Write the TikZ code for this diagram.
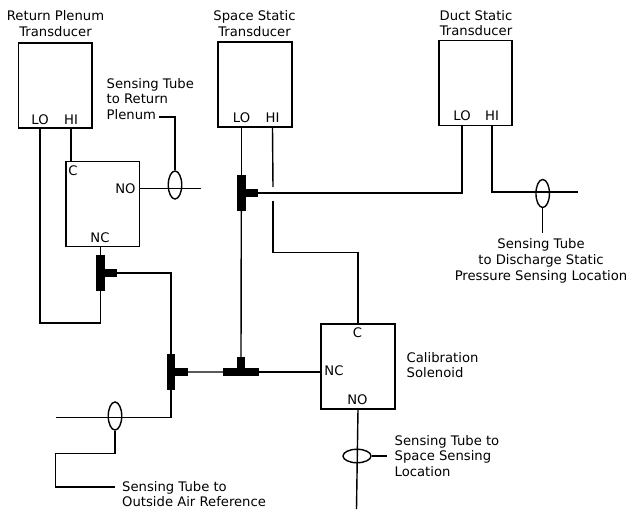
\documentclass[tikz,border=0pt]{standalone}
\usepackage{fontspec}
\setmainfont{DejaVu Sans}
\usetikzlibrary{shapes.geometric}
\begin{document}
\begin{tikzpicture}[scale=0.2,line width=0.8pt]
        \tikzstyle{every node}+=[inner sep=0pt,font=\fontsize{7.5}{9}\selectfont]
        \tikzstyle{devbox}=[draw,line width=0.9pt,minimum width=1.47cm,minimum height=1.7cm]
        \tikzstyle{vbar}=[fill=black,outer sep=0pt,minimum width=0.17cm,minimum height=0.72cm]
        \tikzstyle{hbar}=[fill=black,outer sep=0pt,minimum width=0.72cm,minimum height=0.17cm]
        \tikzstyle{rstub}=[fill=black,outer sep=0pt,minimum width=0.25cm,minimum height=0.17cm]
        \tikzstyle{ustub}=[fill=black,outer sep=0pt,minimum width=0.17cm,minimum height=0.21cm]
        \tikzstyle{vtube}=[draw,ellipse,minimum width=0.27cm,minimum height=0.56cm]
        \tikzstyle{htube}=[draw,ellipse,minimum width=0.56cm,minimum height=0.27cm]
        \tikzstyle{note}=[align=left,anchor=west]
        \useasboundingbox (0,0) rectangle (63.2,-51);
        % boxes
        \node (rp) [devbox] at (5.53,-8.55) {};
        \node (space) [devbox] at (25.5,-8.45) {};
        \node (duct) [devbox] at (47.55,-8.3) {};
        \node (sw) [devbox] at (10.28,-20.4) {};
        \node (sol) [devbox] at (35.8,-36.65) {};
        % titles
        \node (rptitle) [align=center] at (5.55,-2.35) {Return Plenum\\Transducer};
        \node (spacetitle) [align=center] at (25.45,-2.35) {Space Static\\Transducer};
        \node (ducttitle) [align=center] at (47.6,-2.3) {Duct Static\\Transducer};
        \node (soltitle) [note] at (40.6,-36.5) {Calibration\\Solenoid};
        % ports
        \node (rplo) at (4,-11.95) {LO};
        \node (rphi) at (7.1,-11.95) {HI};
        \node (spacelo) at (24.15,-11.8) {LO};
        \node (spacehi) at (27.25,-11.8) {HI};
        \node (ductlo) at (46.2,-11.6) {LO};
        \node (ducthi) at (49.2,-11.6) {HI};
        \node (swc) at (7.3,-17.05) {C};
        \node (swno) at (12.55,-18.9) {NO};
        \node (swnc) at (10,-23.75) {NC};
        \node (solc) at (35.75,-33.25) {C};
        \node (solnc) at (33.4,-37.05) {NC};
        \node (solno) at (35.75,-40) {NO};
        % tees
        \node (t1bar) [vbar] at (10.03,-27.3) {};
        \node (t1stub) [rstub,anchor=west] at (t1bar.east) {};
        \node (t2bar) [vbar] at (17.1,-37.2) {};
        \node (t2stub) [rstub,anchor=west] at (t2bar.east) {};
        \node (t3bar) [hbar] at (24.1,-37.2) {};
        \node (t3stub) [ustub,anchor=south] at (t3bar.north) {};
        \node (t4bar) [vbar] at (24.13,-19.3) {};
        \node (t4stub) [rstub,anchor=west] at (t4bar.east) {};
        % sensing tubes
        \node (rptube) [vtube] at (17.5,-18.5) {};
        \node (ducttube) [vtube] at (54.27,-19.35) {};
        \node (oatube) [vtube] at (11.5,-41.6) {};
        \node (spacetube) [htube] at (35.7,-45.6) {};
        \node (rpnote) [note] at (10.6,-9.9) {Sensing Tube\\to Return\\Plenum};
        \node (ductnote) [align=center] at (54.1,-26.1) {Sensing Tube\\to Discharge Static\\Pressure Sensing Location};
        \node (oanote) [note] at (12.15,-49.4) {Sensing Tube to\\Outside Air Reference};
        \node (spacenote) [note] at (39.4,-45.6) {Sensing Tube to\\Space Sensing\\Location};
        % free ends and bends
        \coordinate (rpturn) at (4,-32.3);
        \coordinate (rpnoend) at (20.1,-18.85);
        \coordinate (hiend) at (27.3,-18.7);
        \coordinate (histart) at (27.3,-20.05);
        \coordinate (hibend) at (27.3,-25.25);
        \coordinate (ductend) at (57.77,-19.2);
        \coordinate (ductlead) at (54.27,-23.3);
        \coordinate (oaend) at (5.55,-41.75);
        \coordinate (oatop) at (5.55,-45.35);
        \coordinate (oabot) at (5.55,-48.7);
        \coordinate (oalead) at (11.5,-48.7);
        \coordinate (solend) at (35.65,-50.9);
        \coordinate (rplead) at (15.9,-11.7);
        \coordinate (spacelead) at (38.7,-45.6);
        % connectors
        \draw (rp.south -| rplo) -- (rpturn) -| (t1bar.south);
        \draw (rp.south -| rphi) -- (sw.north -| rphi);
        \draw (sw.south -| t1bar) -- (t1bar.north);
        \draw (sw.east |- rpnoend) -- (rpnoend);
        \draw (rptube.north) |- (rplead);
        \draw (t1stub.east) -| (t2bar.north);
        \draw (t2stub.east) -- (t3bar.west);
        \draw (t3stub.north) -- (t4bar.south);
        \draw (space.south -| t4bar) -- (t4bar.north);
        \draw (t3bar.east) -- (sol.west |- t3bar);
        \draw (t2bar.south) |- (oaend);
        \draw (oatube.south) |- (oatop) -- (oabot) -- (oalead);
        \draw (space.south -| spacehi) -- (hiend);
        \draw (histart) -- (hibend) -| (sol.north);
        \draw (t4stub.east) -| (duct.south -| ductlo);
        \draw (duct.south -| ducthi) |- (ductend);
        \draw (ducttube.south) -- (ductlead);
        \draw (sol.south) -- (solend);
        \draw (spacetube.east) -- (spacelead);
      \end{tikzpicture}
\end{document}
